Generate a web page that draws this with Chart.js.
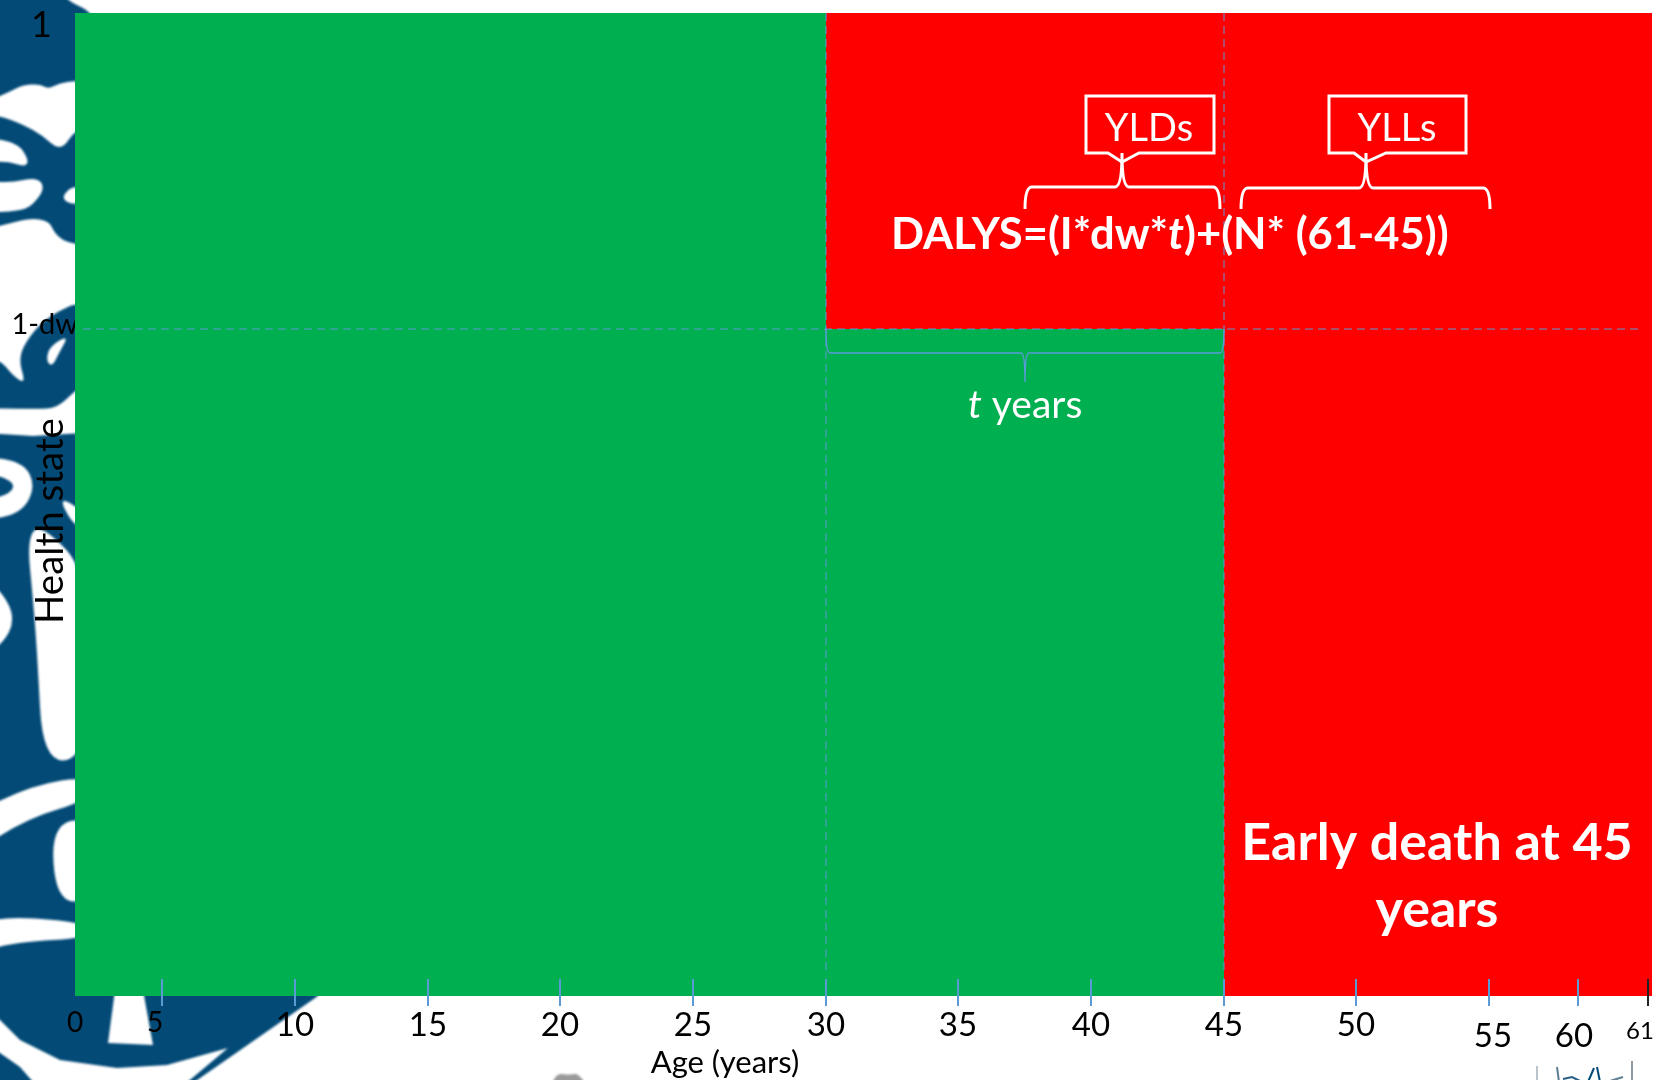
<!DOCTYPE html>
<html>
<head>
<meta charset="utf-8">
<title>DALYs</title>
<script src="https://cdn.jsdelivr.net/npm/chart.js@4/dist/chart.umd.min.js"></script>
<style>
  html, body { margin: 0; padding: 0; background: #fff; }
  canvas { display: block; }
</style>
</head>
<body>
<canvas id="chart" width="1655" height="1080"></canvas>
<script>
// Age axis: ticks, and how wide each gap between them is drawn (the axis is not uniform)
const ageTicks = [0, 5, 10, 15, 20, 25, 30, 35, 40, 45, 50, 55, 60, 61];
const ageGapWidths = [87, 133, 133, 132, 133, 133, 132, 133, 133, 132, 133, 89, 70, 4];
const ageAxisEnd = 61.06;

// Health state axis
const healthTicks = [0.6785, 1];
const healthTickLabels = { 0.6785: "1-dw", 1: "1" };

// Health profile of the person, full health until onset at 30, death at 45
const healthyAges = [0, 30, 30, 45, 45];
const healthyStates = [1, 1, 0.6785, 0.6785, 0];
const lostAges = [30, ageAxisEnd];
const lostStates = [1, 1];

// Dashed guides
const onsetGuideAges = [30, 30];
const deathGuideAges = [45, 45];
const guideStates = [1, 0.022];
const levelGuideAges = [0.46, 60.9];
const levelGuideStates = [0.6785, 0.6785];

const GREEN = "#00B050";
const RED = "#FF0000";
const BLUE = "#5B9BD5";
const NAVY = "#034A77";
const FONT = "Lato, Carlito, sans-serif";

const pairs = (xs, ys) => xs.map((x, i) => ({ x, y: ys[i] }));

// Moves single tick labels off their default spot, see labelShift in the scale options
function shiftLabels(scale, items) {
  const shifts = scale.options.labelShift || {};
  items.forEach((item, i) => {
    const shift = shifts[scale.ticks[i]?.value];
    if (!shift) return;
    item.options.translation[0] += shift[0];
    item.options.translation[1] += shift[1];
  });
  return items;
}

// Tick labels may stick out of the plot, no room is reserved for them
function clearLabelPadding(axis) {
  axis.paddingLeft = axis.paddingRight = axis.paddingTop = axis.paddingBottom = 0;
}

// Linear scale with a piecewise position: each tick gap has its own width
class AgeScale extends Chart.LinearScale {
  static id = "age";
  static defaults = {};

  getPixelForValue(value) {
    const knots = [...ageTicks, ageAxisEnd];
    const total = ageGapWidths.reduce((a, b) => a + b, 0);
    let run = 0;
    for (let i = 0; i < ageGapWidths.length; i++) {
      if (value <= knots[i + 1] || i === ageGapWidths.length - 1) {
        const f = (value - knots[i]) / (knots[i + 1] - knots[i]);
        return this.left + this.width * (run + f * ageGapWidths[i]) / total;
      }
      run += ageGapWidths[i];
    }
    return this.right;
  }

  _computeLabelItems(area) {
    return shiftLabels(this, super._computeLabelItems(area));
  }
}

class HealthScale extends Chart.LinearScale {
  static id = "health";
  static defaults = {};

  _computeLabelItems(area) {
    return shiftLabels(this, super._computeLabelItems(area));
  }
}

// Closed path with softened corners, goes through the middle of each edge
function blob(ctx, pts, fill) {
  ctx.fillStyle = fill;
  ctx.beginPath();
  const n = pts.length;
  const mid = (a, b) => [(a[0] + b[0]) / 2, (a[1] + b[1]) / 2];
  const start = mid(pts[n - 1], pts[0]);
  ctx.moveTo(start[0], start[1]);
  for (let i = 0; i < n; i++) {
    const m = mid(pts[i], pts[(i + 1) % n]);
    ctx.quadraticCurveTo(pts[i][0], pts[i][1], m[0], m[1]);
  }
  ctx.closePath();
  ctx.fill();
}

function polygon(ctx, pts, fill) {
  ctx.fillStyle = fill;
  ctx.beginPath();
  pts.forEach((p, i) => (i ? ctx.lineTo(p[0], p[1]) : ctx.moveTo(p[0], p[1])));
  ctx.closePath();
  ctx.fill();
}

function stroked(ctx, color, width, pts) {
  ctx.strokeStyle = color;
  ctx.lineWidth = width;
  ctx.beginPath();
  pts.forEach((p, i) => (i ? ctx.lineTo(p[0], p[1]) : ctx.moveTo(p[0], p[1])));
  ctx.stroke();
}

// Crest behind the plot, only its left and bottom edges stay visible
const crestBackdrop = {
  id: "crestBackdrop",
  beforeDraw(chart) {
    const ctx = chart.ctx;
    const W = "#fff";
    ctx.save();
    ctx.fillStyle = "#fff";
    ctx.fillRect(0, 0, chart.width, chart.height);
    ctx.filter = "blur(0.8px)";

    blob(ctx, [[-30, -30], [62, -30], [60, -2], [100, 15], [100, 80], [75, 81], [60, 83], [48, 89], [40, 84], [22, 85], [10, 92], [-30, 108]], NAVY);

    blob(ctx, [[-30, 112], [0, 116], [22, 124], [42, 135], [61, 152], [76, 128], [100, 130], [100, 248], [75, 244], [62, 240], [54, 232], [49, 221], [30, 218], [0, 226], [-30, 232]], NAVY);
    blob(ctx, [[-20, 137], [17, 142], [29, 160], [25, 167], [7, 161], [-20, 163]], W);
    blob(ctx, [[-20, 180], [10, 183], [37, 177], [45, 188], [33, 205], [20, 211], [-20, 213]], W);
    blob(ctx, [[75, 184], [60, 198], [75, 206], [85, 196]], W);

    blob(ctx, [[90, 297], [50, 315], [30, 335], [18, 358], [26, 384], [13, 376], [-1, 358], [-30, 360], [-30, 408], [37, 409], [57, 408], [75, 391], [90, 380]], NAVY);
    blob(ctx, [[69, 335], [50, 346], [46, 360], [52, 367], [59, 353]], W);

    // main disc, the cut-outs are laid over it
    polygon(ctx, [[-30, 432], [33, 436], [100, 432], [318, 996], [190, 1085], [-30, 1085]], NAVY);
    blob(ctx, [[-25, 456], [23, 461], [36, 487], [20, 515], [-25, 521], [-25, 503], [12, 494], [14, 480], [-25, 470]], W);
    blob(ctx, [[27, 537], [42, 524], [90, 575], [90, 755], [43, 765], [37, 650], [33, 600]], W);
    blob(ctx, [[58, 495], [88, 515], [88, 530], [72, 524]], W);
    blob(ctx, [[-20, 570], [8, 600], [14, 622], [4, 642], [-20, 660]], W);
    blob(ctx, [[90, 776], [33, 785], [-30, 815], [-30, 855], [28, 818], [90, 800]], W);
    blob(ctx, [[90, 816], [51, 826], [56, 900], [90, 903]], W);
    blob(ctx, [[-20, 915], [90, 922], [90, 938], [17, 942], [-20, 952]], W);
    polygon(ctx, [[115, 990], [143, 990], [153, 1045], [108, 1043]], W);
    polygon(ctx, [[-30, 1000], [0, 1020], [20, 1040], [60, 1060], [117, 1068], [167, 1065], [228, 1048], [178, 1090], [40, 1090], [20, 1067], [0, 1053], [-30, 1040]], W);

    // bits of other artwork below the axis
    blob(ctx, [[549, 1092], [556, 1073], [569, 1075], [579, 1073], [590, 1092]], "#9a9a9a");
    ctx.filter = "blur(0.6px)";
    stroked(ctx, "#b9c4cc", 2, [[1537, 1066], [1537, 1082]]);
    stroked(ctx, "#5f7f94", 2, [[1557, 1067], [1559, 1082]]);
    stroked(ctx, "#285f86", 2, [[1563, 1079], [1572, 1077], [1580, 1081]]);
    stroked(ctx, "#034A77", 2, [[1588, 1082], [1594, 1068]]);
    stroked(ctx, "#034A77", 2, [[1597, 1067], [1600, 1082]]);
    stroked(ctx, "#5f7f94", 2, [[1610, 1081], [1623, 1077]]);
    stroked(ctx, "#8d9aa3", 2, [[1632, 1061], [1632, 1082]]);
    ctx.restore();
  },
};

function brace(ctx, x0, x1, xm, yEnd, yBar, yTip, r) {
  ctx.beginPath();
  ctx.moveTo(x0, yEnd);
  ctx.quadraticCurveTo(x0, yBar, x0 + r, yBar);
  ctx.lineTo(xm - r, yBar);
  ctx.quadraticCurveTo(xm, yBar, xm, yTip);
  ctx.quadraticCurveTo(xm, yBar, xm + r, yBar);
  ctx.lineTo(x1 - r, yBar);
  ctx.quadraticCurveTo(x1, yBar, x1, yEnd);
  ctx.stroke();
}

function calloutBox(ctx, left, right, top, bottom, notchL, notchM, notchR, notchY) {
  ctx.beginPath();
  ctx.moveTo(left, top);
  ctx.lineTo(right, top);
  ctx.lineTo(right, bottom);
  ctx.lineTo(notchR, bottom);
  ctx.lineTo(notchM, notchY);
  ctx.lineTo(notchL, bottom);
  ctx.lineTo(left, bottom);
  ctx.closePath();
  ctx.stroke();
}

function textRuns(ctx, runs, x, y) {
  ctx.textAlign = "left";
  for (const [text, font] of runs) {
    ctx.font = font;
    ctx.fillText(text, x, y);
    x += ctx.measureText(text).width;
  }
}

// Axis marks, braces and the labels written inside the plot
const annotations = {
  id: "annotations",
  afterDatasetsDraw(chart) {
    const ctx = chart.ctx;
    const x = chart.scales.x;
    const area = chart.chartArea;
    ctx.save();

    ctx.lineWidth = 2;
    for (const age of ageTicks) {
      if (age === 0) continue;
      const px = Math.round(x.getPixelForValue(age));
      ctx.strokeStyle = age === 61 ? "#222" : BLUE;
      ctx.beginPath();
      ctx.moveTo(px, area.bottom - 17);
      ctx.lineTo(px, area.bottom + 10);
      ctx.stroke();
    }

    // t years brace hangs off the health level
    const yLevel = chart.scales.y.getPixelForValue(healthTicks[0]);
    ctx.strokeStyle = BLUE;
    ctx.lineWidth = 1.5;
    const t0 = x.getPixelForValue(30);
    const t1 = x.getPixelForValue(45);
    brace(ctx, t0, t1, (t0 + t1) / 2, yLevel, yLevel + 24, yLevel + 53, 4);

    ctx.strokeStyle = "#fff";
    ctx.lineWidth = 3;
    calloutBox(ctx, 1086, 1214, 96, 153, 1108, 1122, 1139, 162);
    calloutBox(ctx, 1329, 1466, 96, 153, 1354, 1366, 1386, 162);
    brace(ctx, 1025, 1220, 1122, 209, 187, 153, 7);
    brace(ctx, 1241, 1490, 1366, 209, 188, 153, 7);

    ctx.fillStyle = "#fff";
    ctx.textBaseline = "alphabetic";
    ctx.textAlign = "center";
    ctx.font = `38px ${FONT}`;
    ctx.fillText("YLDs", 1149, 141);
    ctx.fillText("YLLs", 1397, 141);

    const bold = `bold 43.5px ${FONT}`;
    const boldItalic = `italic bold 43.5px ${FONT}`;
    textRuns(ctx, [["DALYS=(I*dw*", bold], ["t", boldItalic], [")+(N* (61-45))", bold]], 891, 249);

    textRuns(ctx, [["t", `italic 39px ${FONT}`], [" years", `39px ${FONT}`]], 968, 418);

    ctx.textAlign = "center";
    ctx.font = `bold 52px ${FONT}`;
    ctx.fillText("Early death at 45", 1437, 860);
    ctx.fillText("years", 1437, 927);

    ctx.fillStyle = "#000";
    ctx.font = `31px ${FONT}`;
    ctx.fillText("Age (years)", 725, 1073);

    ctx.translate(51, 521);
    ctx.rotate(-Math.PI / 2);
    ctx.textBaseline = "middle";
    ctx.font = `38.5px ${FONT}`;
    ctx.fillText("Health state", 0, 0);
    ctx.restore();
  },
};

Chart.register(AgeScale, HealthScale);

new Chart(document.getElementById("chart"), {
  type: "scatter",
  data: {
    datasets: [
      // filler paints the last dataset first, so the red goes at the end
      { label: "Level", data: pairs(levelGuideAges, levelGuideStates), showLine: true, borderColor: BLUE, borderWidth: 1, borderDash: [8, 5], pointRadius: 0 },
      { label: "Onset", data: pairs(onsetGuideAges, guideStates), showLine: true, borderColor: BLUE, borderWidth: 1, borderDash: [8, 5], pointRadius: 0 },
      { label: "Death", data: pairs(deathGuideAges, guideStates), showLine: true, borderColor: BLUE, borderWidth: 1, borderDash: [8, 5], pointRadius: 0 },
      { label: "Lived in health", data: pairs(healthyAges, healthyStates), showLine: true, borderWidth: 0, pointRadius: 0, fill: "origin", backgroundColor: GREEN },
      { label: "Health lost", data: pairs(lostAges, lostStates), showLine: true, borderWidth: 0, pointRadius: 0, fill: "origin", backgroundColor: RED },
    ],
  },
  options: {
    responsive: false,
    animation: false,
    layout: { padding: { top: 13, right: 3, bottom: 0, left: 0 } },
    plugins: { legend: { display: false }, tooltip: { enabled: false } },
    scales: {
      x: {
        type: "age",
        min: 0,
        max: ageAxisEnd,
        grid: { display: false, drawTicks: false },
        border: { display: false },
        afterBuildTicks: (axis) => { axis.ticks = ageTicks.map((value) => ({ value })); },
        afterFit: (axis) => { axis.height = 84; clearLabelPadding(axis); },
        labelShift: { 5: [-7, 0], 55: [4, 11], 60: [-4, 11], 61: [-8, 11] },
        ticks: {
          autoSkip: false,
          maxRotation: 0,
          padding: 10,
          color: "#000",
          font: (ctx) => ({ family: FONT, size: ctx.tick?.value === 61 ? 24 : ctx.tick?.value <= 5 ? 28 : 33 }),
          callback: (value) => String(value),
        },
      },
      y: {
        type: "health",
        min: 0,
        max: 1,
        grid: { display: false, drawTicks: false },
        border: { display: false },
        afterBuildTicks: (axis) => { axis.ticks = healthTicks.map((value) => ({ value })); },
        afterFit: (axis) => { axis.width = 75; clearLabelPadding(axis); },
        labelShift: { 1: [-23, 12], 0.6785: [3, -4] },
        ticks: {
          autoSkip: false,
          padding: 0,
          color: "#000",
          font: (ctx) => ({ family: FONT, size: ctx.tick?.value === 1 ? 36 : 29 }),
          callback: (value) => healthTickLabels[value],
        },
      },
    },
  },
  plugins: [crestBackdrop, annotations],
});
</script>
</body>
</html>
